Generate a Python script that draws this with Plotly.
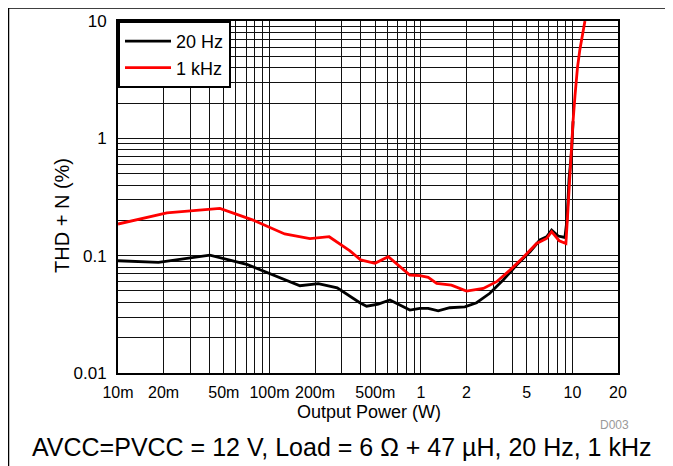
import plotly.graph_objects as go

# ---- data ----
x_20hz = [0.01, 0.0185, 0.0404, 0.0708, 0.159, 0.210, 0.280, 0.34, 0.395, 0.438, 0.523, 0.624,
          0.726, 0.845, 0.985, 1.117, 1.30, 1.55, 1.95, 2.33, 2.85, 3.49, 4.28, 5.25, 6.10,
          6.76, 7.29, 8.06, 8.92, 9.2, 9.5, 9.9, 10.1]
y_20hz = [0.0905, 0.0877, 0.101, 0.0843, 0.0554, 0.0577, 0.0532, 0.0453, 0.0397, 0.0371, 0.0386, 0.0419,
          0.0379, 0.0344, 0.0356, 0.0356, 0.0339, 0.0360, 0.0366, 0.0397, 0.0478, 0.062, 0.0832, 0.108, 0.136,
          0.145, 0.165, 0.147, 0.143, 0.2, 0.45, 0.8, 1.4]

x_1khz = [0.01, 0.021, 0.0471, 0.078, 0.126, 0.185, 0.248, 0.34, 0.40, 0.497, 0.609, 0.726,
          0.845, 0.985, 1.117, 1.27, 1.59, 2.0, 2.58, 3.16, 3.87, 4.73, 5.80, 6.76, 7.29,
          8.18, 9.06, 9.35, 9.65, 9.9, 10.1, 10.4, 10.8, 11.2, 12.1]
y_1khz = [0.186, 0.232, 0.253, 0.201, 0.153, 0.140, 0.145, 0.110, 0.092, 0.086, 0.098, 0.080,
          0.0684, 0.0675, 0.0653, 0.058, 0.0561, 0.0499, 0.0526, 0.060, 0.0753, 0.0966, 0.127, 0.140, 0.160,
          0.134, 0.127, 0.25, 0.55, 0.8, 1.4, 2.3, 4.0, 5.7, 10.0]

x_tickvals = [0.01, 0.02, 0.05, 0.1, 0.2, 0.5, 1, 2, 5, 10, 20]
x_ticktext = ["10m", "20m", "50m", "100m", "200m", "500m", "1", "2", "5", "10", "20"]
y_tickvals = [0.01, 0.1, 1, 10]
y_ticktext = ["0.01", "0.1", "1", "10"]

x_minor = [d * 10 ** e for e in (-2, -1, 0, 1) for d in range(1, 10) if d * 10 ** e <= 20]
y_minor = [d * 10 ** e for e in (-2, -1, 0) for d in range(1, 10)] + [10]

series_names = ["20 Hz", "1 kHz"]
caption = "AVCC=PVCC = 12 V, Load = 6 \u03a9 + 47 \u00b5H, 20 Hz, 1 kHz"

FONT = "Liberation Sans, Arial, sans-serif"
W, H = 673, 466
OFF = 8  # page body margin
# target plot area on screen: x 118..618, y 21..373
L, T = 118 - OFF, 21 - OFF
PW, PH = 500, 352
R = W - L - PW
B = H - T - PH


def px(sx):
    return (sx - OFF - L) / PW


def py(sy):
    return (T + PH - (sy - OFF)) / PH


fig = go.Figure()
fig.add_trace(go.Scatter(x=x_20hz, y=y_20hz, mode="lines", name=series_names[0],
                         line=dict(color="black", width=2.8)))
fig.add_trace(go.Scatter(x=x_1khz, y=y_1khz, mode="lines", name=series_names[1],
                         line=dict(color="#ff0000", width=2.8)))

grid_color = "#111111"
fig.update_xaxes(type="log", range=[-2, 1.30103], tickmode="array", tickvals=x_tickvals,
                 ticktext=x_ticktext, showgrid=True, gridcolor=grid_color, gridwidth=1,
                 minor=dict(tickmode="array", tickvals=x_minor, showgrid=True,
                            gridcolor=grid_color, gridwidth=1, ticks=""),
                 showline=True, linecolor="black", linewidth=2, mirror=True,
                 ticks="outside", ticklen=4, tickcolor="rgba(0,0,0,0)", automargin=False,
                 tickfont=dict(family=FONT, size=16, color="black"), zeroline=False)
fig.update_yaxes(type="log", range=[-2, 1], tickmode="array", tickvals=y_tickvals,
                 ticktext=y_ticktext, showgrid=True, gridcolor=grid_color, gridwidth=1,
                 minor=dict(tickmode="array", tickvals=y_minor, showgrid=True,
                            gridcolor=grid_color, gridwidth=1, ticks=""),
                 showline=True, linecolor="black", linewidth=2, mirror=True,
                 ticks="outside", ticklen=6, tickcolor="rgba(0,0,0,0)", automargin=False,
                 tickfont=dict(family=FONT, size=17, color="black"), zeroline=False)

fig.update_layout(
    width=W, height=H,
    margin=dict(l=L, r=R, t=T, b=B, pad=0, autoexpand=False),
    paper_bgcolor="white", plot_bgcolor="white",
    showlegend=True,
    legend=dict(x=0, y=1, xanchor="left", yanchor="top", bgcolor="white",
                bordercolor="black", borderwidth=2,
                font=dict(family=FONT, size=18, color="black"),
                tracegroupgap=0, itemwidth=46),
    font=dict(family=FONT, color="black"),
    annotations=[
        dict(text="Output Power (W)", x=px(369), y=py(412), xref="paper", yref="paper",
             showarrow=False, font=dict(family=FONT, size=18, color="black"),
             xanchor="center", yanchor="middle"),
        dict(text="THD + N (%)", x=px(62), y=py(216), xref="paper", yref="paper",
             showarrow=False, textangle=-90, font=dict(family=FONT, size=20, color="black"),
             xanchor="center", yanchor="middle"),
        dict(text="D003", x=px(614), y=py(425), xref="paper", yref="paper",
             showarrow=False, font=dict(family=FONT, size=12, color="#999999"),
             xanchor="center", yanchor="middle"),
        dict(text=caption, x=px(30), y=py(447), xref="paper", yref="paper",
             showarrow=False, font=dict(family=FONT, size=25, color="black"),
             xanchor="left", yanchor="middle"),
    ],
    shapes=[
        dict(type="line", xref="paper", yref="paper", x0=px(8.5), x1=px(700), y0=py(8), y1=py(8),
             line=dict(color="black", width=1.5)),
        dict(type="line", xref="paper", yref="paper", x0=px(8.5), x1=px(8.5), y0=py(8), y1=py(480),
             line=dict(color="black", width=1.5)),
    ],
)

fig.write_html("out.html")
